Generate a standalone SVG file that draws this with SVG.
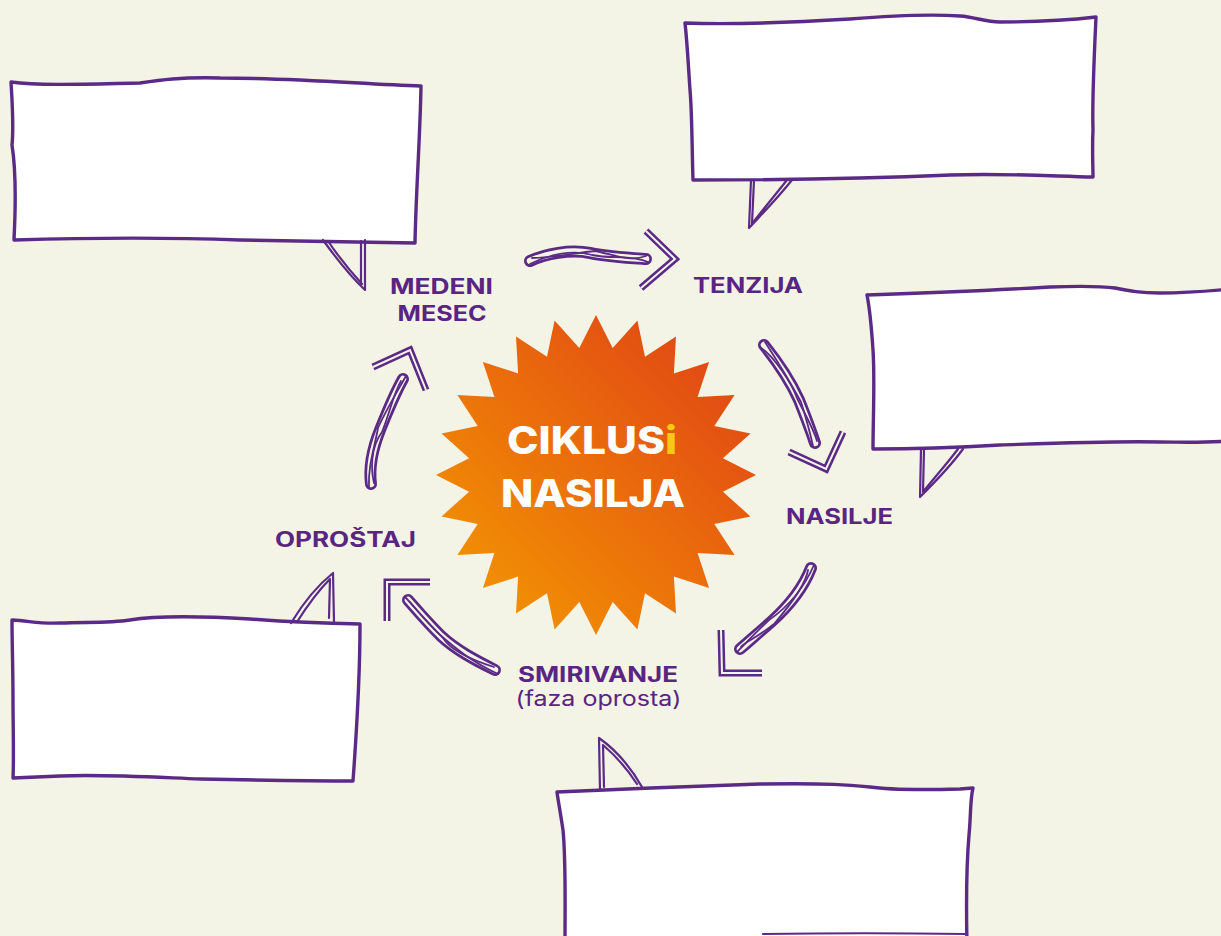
<svg xmlns="http://www.w3.org/2000/svg" width="1221" height="936" viewBox="0 0 1221 936">
<defs>
<linearGradient id="burst" x1="0" y1="1" x2="1" y2="0">
<stop offset="0" stop-color="#f49d00"/>
<stop offset="0.5" stop-color="#ea6d0b"/>
<stop offset="1" stop-color="#df3d17"/>
</linearGradient>
<style>
.box{fill:#fff;stroke:#5b2a86;stroke-width:3.4;stroke-linejoin:round;stroke-linecap:round}
.tail{fill:none;stroke:#5b2a86;stroke-width:2.2;stroke-linecap:round;stroke-linejoin:round}
.shaftO{fill:none;stroke:#5b2a86;stroke-width:12;stroke-linecap:round;stroke-linejoin:round}
.shaftI{fill:none;stroke:#f3f4e5;stroke-width:6.5;stroke-linecap:round;stroke-linejoin:round}
.scrib{fill:none;stroke:#5b2a86;stroke-width:1.8;stroke-linecap:round}
.headO{fill:none;stroke:#5b2a86;stroke-width:7;stroke-linecap:butt;stroke-linejoin:miter}
.headI{fill:none;stroke:#f3f4e5;stroke-width:2;stroke-linecap:butt;stroke-linejoin:miter}
.lbl{font-family:Inter,"Liberation Sans",sans-serif;font-weight:700;font-size:21px;fill:#5a2483;text-anchor:middle}
.sub{font-family:Inter,"Liberation Sans",sans-serif;font-weight:400;font-size:21px;fill:#5a2483;text-anchor:middle}
.big{font-family:Inter,"Liberation Sans",sans-serif;font-weight:800;font-size:38px;fill:#fff;text-anchor:middle}
</style>
</defs>
<rect width="1221" height="936" fill="#f3f4e5"/>

<g id="box-medeni">
<path class="box" d="M11,82 C40,86 90,84 140,83 C160,80 180,77 220,78 C300,78 360,84 421,86 C420,140 416,190 415,243 C360,242 300,241 240,240 C160,237 80,238 14,240 C16,200 16,170 12,145 C14,125 12,100 11,82 Z"/>
<path class="tail" d="M323,240 C336,258 350,276 365,290 M328,241 C340,259 352,273 362,284 M365,290 L365,240 M361,284 L361,241"/>
</g>

<g id="box-tenzija">
<path class="box" d="M685,23 C740,25 800,22 850,19 C900,15 930,14 960,16 C975,17 985,22 1000,22 C1040,22 1070,20 1096,17 C1094,60 1092,100 1093,130 C1092,150 1093,165 1093,177 C1050,176 1000,173 950,175 C880,178 800,180 693,180 C692,150 692,110 690,90 C688,60 687,40 685,23 Z"/>
<path class="tail" d="M751,180 L749,228 M754,180 L752,224 M792,180 C776,200 761,215 749,228 M787,180 C772,199 760,213 752,224"/>
</g>

<g id="box-nasilje">
<path class="box" d="M867,295 C930,293 1000,290 1050,287 C1080,286 1100,286 1115,288 C1130,291 1140,293 1160,293 C1190,293 1210,291 1230,289 L1230,441 C1200,443 1180,442 1160,442 C1110,441 1060,443 1000,445 C950,448 900,449 873,449 C873,420 875,380 873,350 C871,320 869,305 867,295 Z"/>
<path class="tail" d="M921,449 L920,497 M924,449 L923,492 M963,449 C950,467 935,482 920,497 M958,449 C946,465 934,478 923,492"/>
</g>

<g id="box-oprostaj">
<path class="box" d="M12,620 C30,621 40,624 60,623 C90,622 110,623 130,620 C160,615 200,616 250,619 C290,622 310,623 360,624 C360,680 356,740 353,781 C300,781 250,780 200,779 C150,777 100,774 60,776 L13,778 C14,760 13,720 13,700 C13,670 12,640 12,620 Z"/>
<path class="tail" d="M291,623 C305,600 318,585 333,573 L334,622 M297,622 C309,603 320,589 330,579 L329,618"/>
</g>

<g id="box-smirivanje">
<path class="box" d="M557,792 C620,789 700,786 760,784 C830,783 850,785 870,787 C890,790 920,790 960,789 L973,788 C970,800 971,815 969,835 C966,870 966,900 967,945 L565,945 C565,900 566,860 563,830 C560,810 558,800 557,792 Z"/>
<path class="tail" d="M763,934 C830,933 900,933 965,934"/>
<path class="tail" d="M600,790 L599,738 M604,787 L603,745 M599,738 C616,750 630,766 642,787 M603,745 C617,757 628,770 637,784"/>
</g>

<g id="starburst">
<polygon fill="url(#burst)" points="596,315 612.7,348.1 637.4,320.5 645,356.7 676,336.4 673.9,373.4 709.1,361.9 697.6,397.1 734.6,395 714.3,426 750.5,433.6 722.9,458.3 756,475 722.9,491.7 750.5,516.4 714.3,524 734.6,555 697.6,552.9 709.1,588.1 673.9,576.6 676,613.6 645,593.3 637.4,629.5 612.7,601.9 596,635 579.3,601.9 554.6,629.5 547,593.3 516,613.6 518.1,576.6 482.9,588.1 494.4,552.9 457.4,555 477.7,524 441.5,516.4 469.1,491.7 436,475 469.1,458.3 441.5,433.6 477.7,426 457.4,395 494.4,397.1 482.9,361.9 518.1,373.4 516,336.4 547,356.7 554.6,320.5 579.3,348.1"/>
<text class="big" x="592" y="454" textLength="170" lengthAdjust="spacingAndGlyphs">CIKLUS<tspan fill="#f6c915">i</tspan></text>
<text class="big" x="593" y="507" textLength="184" lengthAdjust="spacingAndGlyphs">NASILJA</text>
</g>

<g id="label-medeni">
<text class="lbl" x="441.5" y="294" textLength="103" lengthAdjust="spacingAndGlyphs">MEDENI</text>
<text class="lbl" x="442" y="321" textLength="89" lengthAdjust="spacingAndGlyphs">MESEC</text>
</g>
<g id="label-tenzija"><text class="lbl" x="748" y="293" textLength="110" lengthAdjust="spacingAndGlyphs">TENZIJA</text></g>
<g id="label-nasilje"><text class="lbl" x="839.5" y="524" textLength="107" lengthAdjust="spacingAndGlyphs">NASILJE</text></g>
<g id="label-smirivanje">
<text class="lbl" x="598" y="682" textLength="160" lengthAdjust="spacingAndGlyphs">SMIRIVANJE</text>
<text class="sub" x="598.5" y="706" textLength="166" lengthAdjust="spacingAndGlyphs">(faza oprosta)</text>
</g>
<g id="label-oprostaj"><text class="lbl" x="345.5" y="547" textLength="141" lengthAdjust="spacingAndGlyphs">OPROŠTAJ</text></g>

<g id="connectors">
<g id="arrow-medeni-tenzija">
<path class="shaftO" d="M530,261 C545,254 570,249 590,253 C610,257 630,258 646,259"/>
<path class="shaftI" d="M530,261 C545,254 570,249 590,253 C610,257 630,258 646,259"/>
<path class="scrib" d="M530,264 C548,255 572,249 592,255 C612,259 632,255 648,262"/>
<path class="scrib" d="M532,258 C552,258 575,253 595,251 C615,255 630,262 646,256"/>
<path class="headO" d="M646,231 L675,259 L641,288"/>
<path class="headI" d="M646,231 L675,259 L641,288"/>
</g>
<g id="arrow-tenzija-nasilje">
<path class="shaftO" d="M764,345 C776,360 790,380 799,400 C807,420 812,434 815,443"/>
<path class="shaftI" d="M764,345 C776,360 790,380 799,400 C807,420 812,434 815,443"/>
<path class="scrib" d="M765,342 C778,362 788,378 801,402 C806,418 810,432 813,446"/>
<path class="scrib" d="M761,348 C774,356 792,384 797,398 C809,422 814,430 817,441"/>
<path class="headO" d="M789,452 L826,469 L843,432"/>
<path class="headI" d="M789,452 L826,469 L843,432"/>
</g>
<g id="arrow-nasilje-smirivanje">
<path class="shaftO" d="M811,568 C804,586 790,605 771,622 C756,635 746,644 740,649"/>
<path class="shaftI" d="M811,568 C804,586 790,605 771,622 C756,635 746,644 740,649"/>
<path class="scrib" d="M814,565 C803,590 788,607 769,620 C755,633 747,642 737,652"/>
<path class="scrib" d="M808,570 C806,584 792,603 774,624 C758,637 742,644 741,647"/>
<path class="headO" d="M721,630 L722,673 L762,673"/>
<path class="headI" d="M721,630 L722,673 L762,673"/>
</g>
<g id="arrow-smirivanje-oprostaj">
<path class="shaftO" d="M495,670 C475,660 456,650 441,636 C426,621 416,609 408,600"/>
<path class="shaftI" d="M495,670 C475,660 456,650 441,636 C426,621 416,609 408,600"/>
<path class="scrib" d="M498,674 C472,662 455,648 439,634 C424,620 414,606 405,597"/>
<path class="scrib" d="M494,667 C478,662 452,652 443,638 C428,622 418,612 410,602"/>
<path class="headO" d="M387,621 L387,582 L430,582"/>
<path class="headI" d="M387,621 L387,582 L430,582"/>
</g>
<g id="arrow-oprostaj-medeni">
<path class="shaftO" d="M371,484 C369,468 372,450 380,430 C388,410 395,393 403,379"/>
<path class="shaftI" d="M371,484 C369,468 372,450 380,430 C388,410 395,393 403,379"/>
<path class="scrib" d="M369,487 C368,466 374,450 378,428 C386,410 397,392 406,376"/>
<path class="scrib" d="M374,483 C371,470 370,448 382,432 C390,412 393,395 401,381"/>
<path class="headO" d="M373,367 L410,350 L426,390"/>
<path class="headI" d="M373,367 L410,350 L426,390"/>
</g>
</g>
</svg>
